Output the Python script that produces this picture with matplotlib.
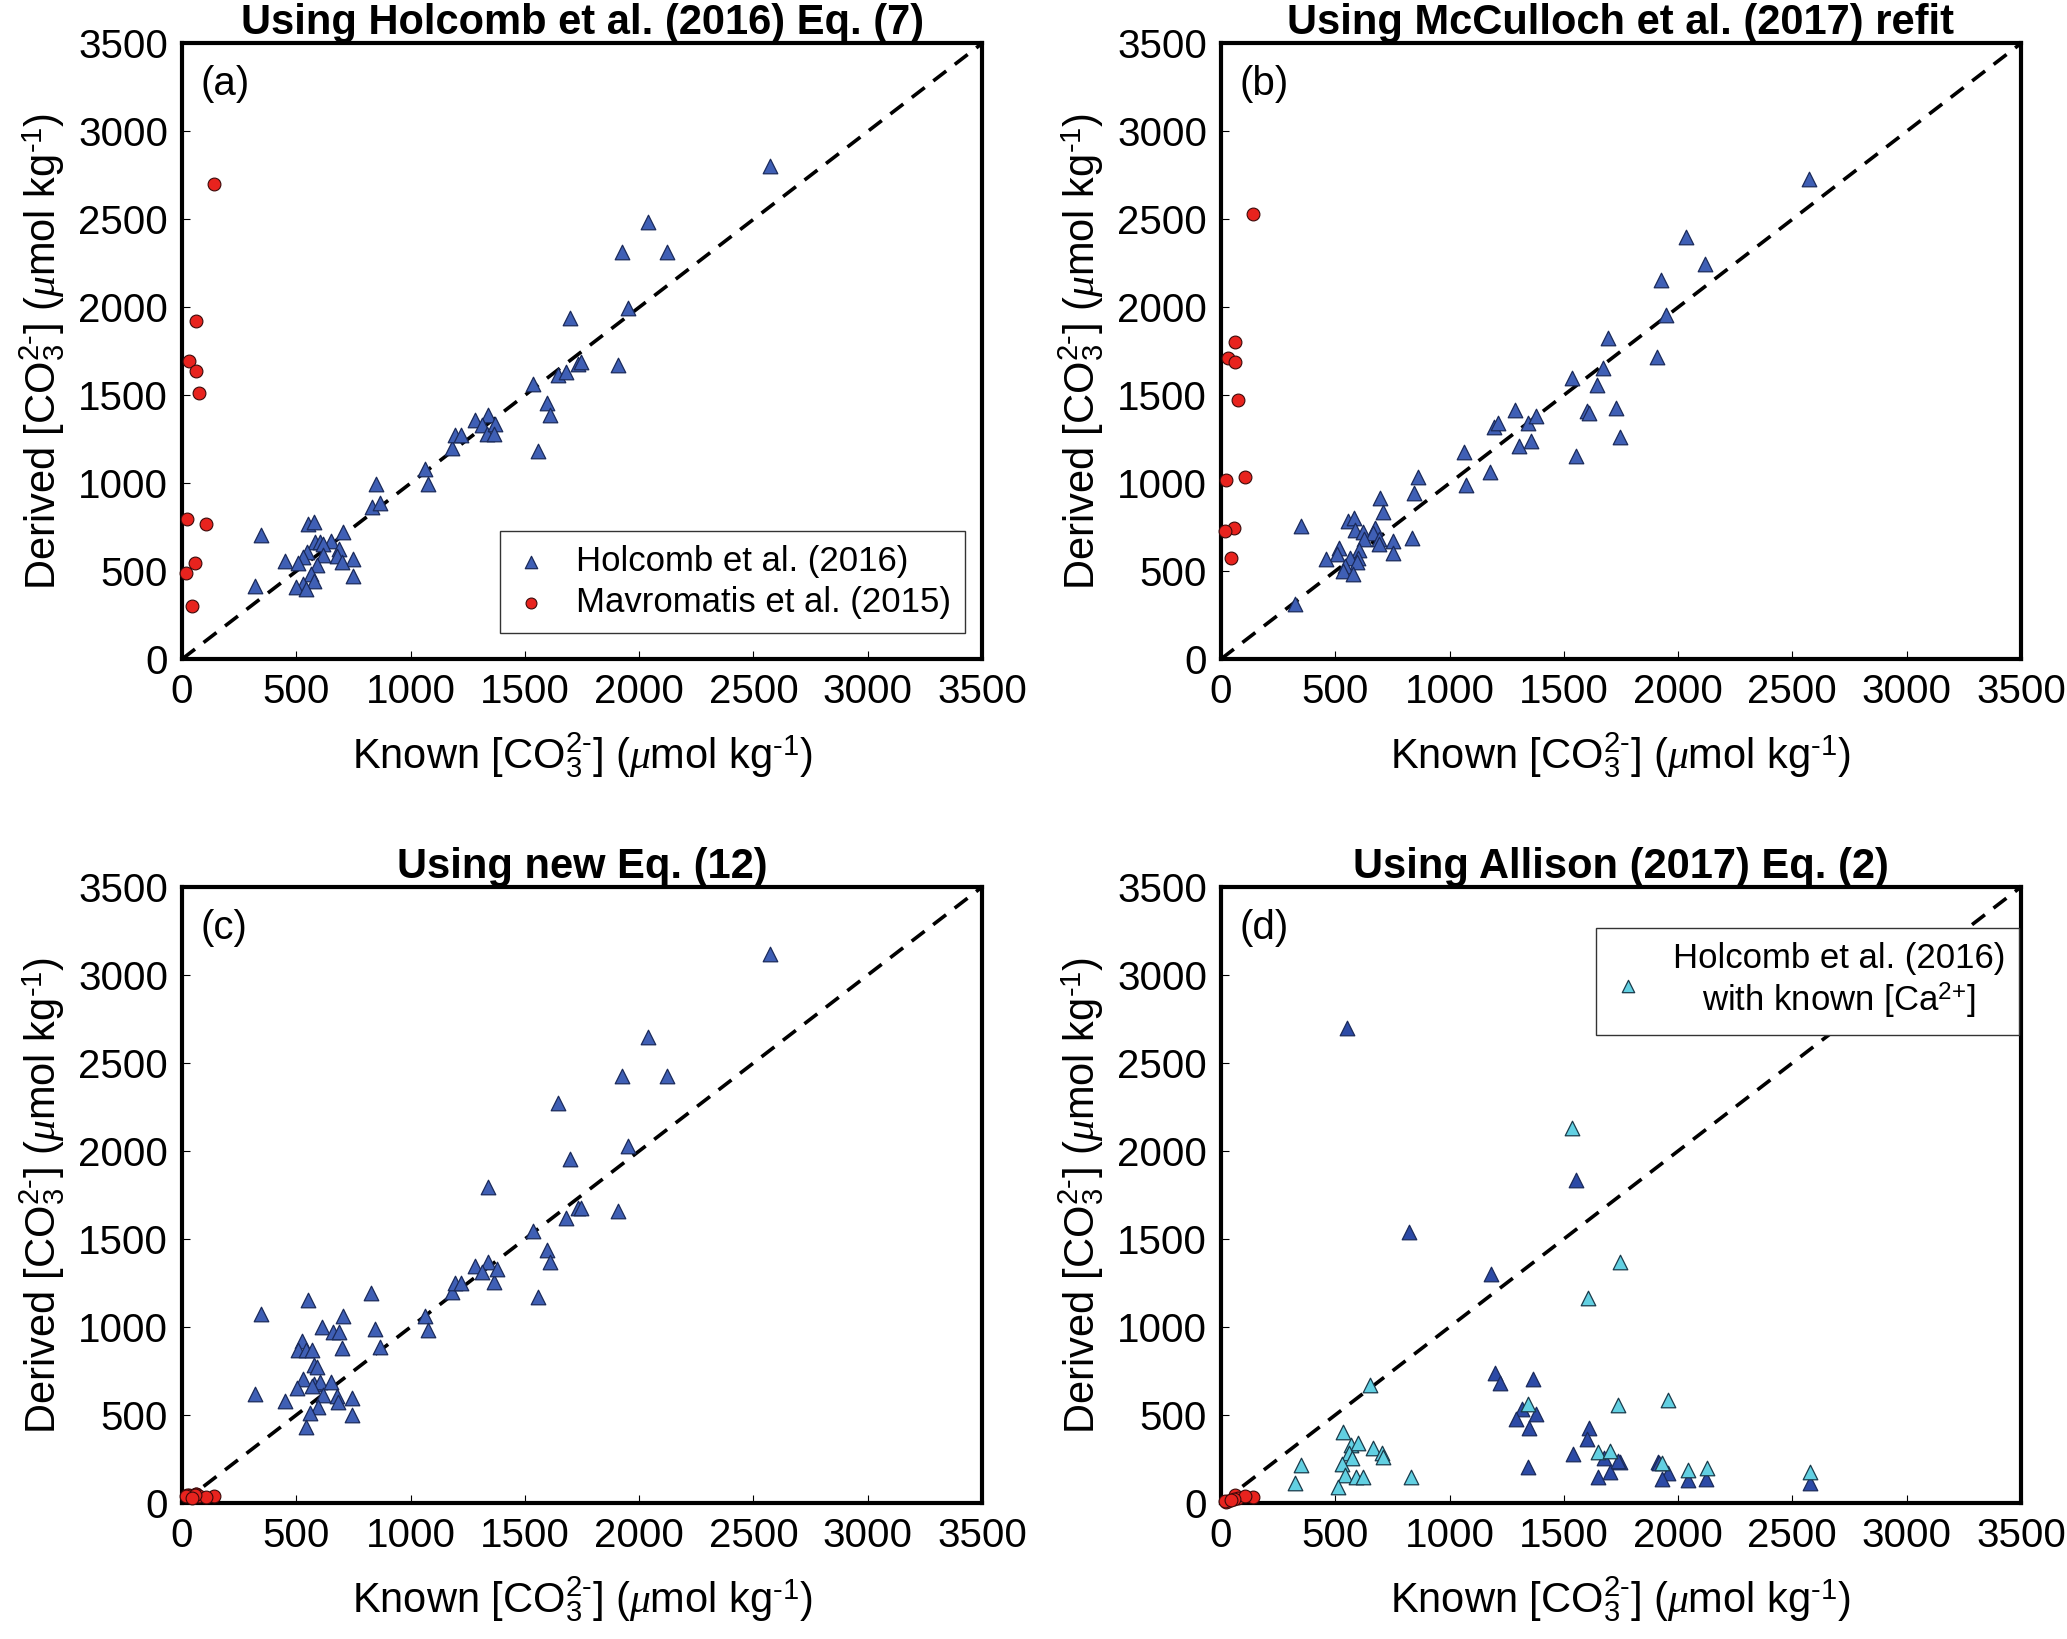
import matplotlib
matplotlib.use('Agg')
import matplotlib.pyplot as plt

# known vs derived carbonate ion, Holcomb et al. (2016) data
a_known = [2573, 2037, 1925, 2120, 1951, 1696, 1908, 1733, 1747, 1644, 1678, 1535, 1595, 1610, 1558,
           1340, 1283, 1314, 1334, 1371, 1363, 1179, 1196, 1219, 1062, 1076, 847, 830, 866, 551,
           577, 344, 703, 583, 604, 650, 618, 688, 677, 747, 615, 545, 531, 452, 509,
           589, 699, 563, 575, 531, 499, 542, 747, 318]
a_derived = [2801, 2484, 2315, 2315, 1996, 1937, 1670, 1679, 1688, 1617, 1634, 1566, 1457, 1389, 1184,
             1389, 1359, 1330, 1279, 1338, 1279, 1202, 1273, 1273, 1078, 998, 993, 862, 885, 767,
             781, 703, 724, 663, 667, 672, 652, 625, 586, 570, 591, 606, 582, 555, 544,
             533, 550, 483, 445, 426, 408, 396, 472, 415]

b_known = [2571, 2034, 2117, 1925, 1948, 1693, 1908, 1673, 1644, 1535, 1601, 1610, 1730, 1744, 1555,
           1285, 1343, 1380, 1357, 1305, 1194, 1214, 1062, 1070, 1179, 864, 846, 696, 710, 351,
           554, 582, 586, 623, 674, 666, 690, 693, 626, 754, 834, 754, 518, 509, 458,
           605, 599, 564, 596, 544, 532, 576, 324]
b_derived = [2730, 2398, 2247, 2153, 1954, 1827, 1717, 1655, 1560, 1599, 1412, 1398, 1427, 1264, 1152,
             1418, 1344, 1383, 1241, 1211, 1321, 1344, 1178, 992, 1063, 1033, 945, 913, 834, 756,
             786, 800, 733, 724, 743, 715, 680, 656, 680, 673, 690, 604, 629, 595, 569,
             620, 576, 572, 553, 529, 502, 483, 313]

c_known = [2573, 2037, 1925, 2120, 1644, 1951, 1696, 1908, 1733, 1747, 1678, 1337, 1535, 1595, 1610,
           1558, 1340, 1283, 1314, 1363, 1377, 1179, 1196, 1219, 1062, 1076, 825, 550, 344, 703,
           611, 662, 688, 846, 866, 700, 524, 509, 541, 567, 577, 589, 531, 504, 577,
           604, 650, 618, 677, 684, 745, 745, 451, 318, 594, 560, 542, 567]
c_derived = [3117, 2650, 2427, 2427, 2272, 2028, 1954, 1659, 1677, 1677, 1621, 1796, 1546, 1436, 1368,
             1169, 1368, 1347, 1312, 1255, 1332, 1196, 1252, 1252, 1065, 984, 1191, 1153, 1072, 1064,
             998, 973, 973, 989, 888, 879, 922, 869, 869, 869, 784, 775, 703, 652, 674,
             689, 689, 614, 608, 576, 598, 500, 581, 617, 547, 513, 430, 663]

d_known = [551, 1555, 823, 1182, 1198, 1220, 1364, 1315, 1380, 1290, 1349, 1344, 1611, 1601, 1540,
           1676, 1746, 1703, 1651, 1910, 1956, 1928, 2042, 2123, 2576, 1735, 1918]
d_derived = [2697, 1835, 1538, 1303, 741, 679, 704, 535, 503, 479, 428, 206, 428, 366, 278,
             253, 235, 178, 150, 235, 173, 137, 131, 139, 113, 240, 225]

# panel d, with known [Ca2+]
ca_known = [1538, 1607, 1744, 653, 349, 324, 534, 570, 601, 664, 703, 707, 558, 575, 528,
            544, 590, 620, 511, 830, 1344, 1735, 1956, 1648, 1700, 1929, 2044, 2125, 2576]
ca_derived = [2130, 1166, 1368, 670, 216, 113, 404, 328, 342, 315, 282, 263, 282, 253, 220,
              158, 146, 150, 88, 146, 563, 559, 586, 291, 295, 225, 186, 197, 175]

# Mavromatis et al. (2015)
mav_known = [140, 60, 30, 62, 75, 22, 103, 56, 17, 45]
mav_a = [2700, 1920, 1695, 1640, 1510, 795, 770, 545, 490, 300]
mav_b = [2530, 1805, 1710, 1690, 1470, 1020, 1035, 745, 730, 575]
mav_c = [38, 52, 45, 50, 40, 44, 36, 48, 42, 30]
mav_d = [36, 30, 12, 45, 27, 8, 40, 20, 10, 15]

titles = ['Using Holcomb et al. (2016) Eq. (7)', 'Using McCulloch et al. (2017) refit',
          'Using new Eq. (12)', 'Using Allison (2017) Eq. (2)']
letters = ['(a)', '(b)', '(c)', '(d)']
ticks = [0, 500, 1000, 1500, 2000, 2500, 3000, 3500]

plt.rcParams['font.family'] = 'Liberation Sans'
plt.rcParams['mathtext.fontset'] = 'custom'
plt.rcParams['mathtext.rm'] = 'Liberation Sans'
plt.rcParams['mathtext.it'] = 'Liberation Serif:italic'

BLUE = '#3f5fb5'
DARK = '#2c4aa6'
CYAN = '#62d0e2'
RED = '#e8231e'

fig = plt.figure(figsize=(20.67, 16.39), dpi=100)
pos = [[0.0881, 0.5979, 0.3870, 0.3756], [0.5907, 0.5979, 0.3870, 0.3756],
       [0.0881, 0.0830, 0.3870, 0.3758], [0.5907, 0.0830, 0.3870, 0.3758]]
axes = [fig.add_axes(p) for p in pos]

blues = [(a_known, a_derived), (b_known, b_derived), (c_known, c_derived), (d_known, d_derived)]
reds = [mav_a, mav_b, mav_c, mav_d]

xlab = r'Known [CO$_3^{2\text{-}}$] ($\mu$mol kg$^{\text{-}1}$)'
ylab = r'Derived [CO$_3^{2\text{-}}$] ($\mu$mol kg$^{\text{-}1}$)'

for i, ax in enumerate(axes):
    ax.plot([0, 3500], [0, 3500], color='black', lw=2.6, dashes=(4.5, 3), zorder=1)
    kx, ky = blues[i]
    col = DARK if i == 3 else BLUE
    ax.scatter(kx, ky, marker='^', s=110, c=col, edgecolors='#1a2a5a', linewidths=0.9, zorder=3,
               label='Holcomb et al. (2016)')
    if i == 3:
        ax.scatter(ca_known, ca_derived, marker='^', s=110, c=CYAN, edgecolors='#1a3a4a',
                   linewidths=0.9, zorder=4,
                   label='Holcomb et al. (2016)\nwith known [Ca$^{2\\text{+}}$]')
    ax.scatter(mav_known, reds[i], marker='o', s=85, c=RED, edgecolors='#3a0a0a', linewidths=0.8,
               zorder=5, clip_on=False, label='Mavromatis et al. (2015)')

    ax.set_xlim(0, 3500)
    ax.set_ylim(0, 3500)
    ax.set_xticks(ticks)
    ax.set_yticks(ticks)
    ax.tick_params(direction='in', length=6, width=0.8, labelsize=29, pad=10)
    for s in ax.spines.values():
        s.set_linewidth(3)
    ax.set_title(titles[i], fontsize=30, fontweight='bold', pad=3)
    ax.set_xlabel(xlab, fontsize=30, labelpad=14)
    ax.set_ylabel(ylab, fontsize=30, labelpad=8)
    ax.text(0.023, 0.965, letters[i], transform=ax.transAxes, fontsize=29, va='top', ha='left')

h, l = axes[0].get_legend_handles_labels()
leg = axes[0].legend(h, l, loc='lower right', bbox_to_anchor=(0.979, 0.042), borderaxespad=0,
                     fontsize=25, fancybox=False, edgecolor='#333333', framealpha=1,
                     handlelength=1.0, handletextpad=0.8, markerscale=0.85, borderpad=0.4,
                     labelspacing=0.25)
leg.get_frame().set_linewidth(1.0)

h, l = axes[3].get_legend_handles_labels()
leg = axes[3].legend([h[1]], [l[1]], loc='upper right', bbox_to_anchor=(0.9975, 0.933), borderaxespad=0,
                     fontsize=25, fancybox=False, edgecolor='#333333', framealpha=1,
                     handlelength=1.0, handletextpad=0.8, markerscale=0.85, borderpad=0.4)
leg.get_frame().set_linewidth(1.0)
for t in leg.get_texts():
    t.set_multialignment('center')

fig.savefig('out.png', dpi=100)
